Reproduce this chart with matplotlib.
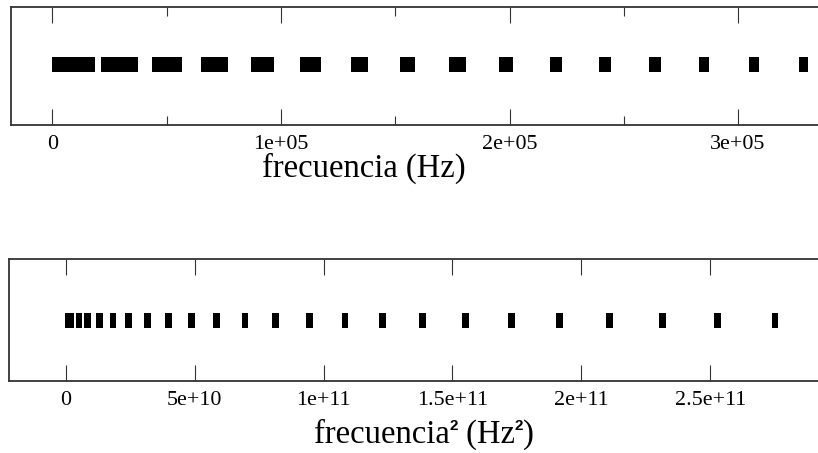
import matplotlib
matplotlib.use("Agg")
import matplotlib.pyplot as plt
from matplotlib.ticker import MultipleLocator

plt.rcParams["font.family"] = ["Liberation Serif", "DejaVu Serif"]

# Frequency bands (Hz): lower and upper edge of each block
band_lo = [0, 21200, 43400, 65000, 86700, 108400, 130600, 152100,
           173600, 195400, 217600, 239200, 261000, 283100, 304700, 326600]
band_hi = [18600, 37400, 56500, 76700, 97100, 117500, 137900, 158600,
           180800, 201700, 222800, 244300, 266200, 287300, 309200, 330800]

# Squared frequencies (Hz^2) of the lines
freq_sq = [0.95e9, 1.4e9, 1.95e9, 5.2e9, 8.5e9, 1.30e10, 1.83e10, 2.43e10,
           3.16e10, 3.99e10, 4.89e10, 5.86e10, 6.96e10, 8.15e10, 9.45e10,
           1.083e11, 1.228e11, 1.385e11, 1.552e11, 1.729e11, 1.915e11,
           2.110e11, 2.315e11, 2.528e11, 2.751e11]

top_ticks = [0, 1e5, 2e5, 3e5]
top_labels = ["0", "1e+05", "2e+05", "3e+05"]
bot_ticks = [0, 5e10, 1e11, 1.5e11, 2e11, 2.5e11]
bot_labels = ["0", "5e+10", "1e+11", "1.5e+11", "2e+11", "2.5e+11"]

W, H = 818, 453
fig = plt.figure(figsize=(W / 100, H / 100), dpi=100)
renderer = fig.canvas.get_renderer()


def px_axes(left, top, right, bottom):
    return fig.add_axes([left / W, 1 - bottom / H, (right - left) / W, (bottom - top) / H])


spine_col = "#333333"
tick_fs = 15.8
label_fs = 23.5


def style(ax):
    for side in ("left", "top", "bottom"):
        ax.spines[side].set_color(spine_col)
        ax.spines[side].set_linewidth(1.3)
    ax.spines["right"].set_visible(False)
    ax.set_yticks([])
    ax.set_ylim(0, 1)
    ax.tick_params(axis="x", which="both", direction="in", top=True, bottom=True,
                   color=spine_col, width=0.8, labelsize=tick_fs, pad=7)
    ax.tick_params(axis="x", which="major", length=11.5)
    ax.tick_params(axis="x", which="minor", length=6.5)


def axis_title(pieces, cx, baseline):
    """Write a title made of (text, size, family, weight, rise_px) pieces,
    centred on cx with its baseline at y = baseline (pixels from top)."""
    widths = []
    for txt, size, fam, wt, rise in pieces:
        t = fig.text(0, 0, txt, fontsize=size, family=fam, weight=wt)
        widths.append(t.get_window_extent(renderer).width)
        t.remove()
    x = cx - sum(widths) / 2
    for (txt, size, fam, wt, rise), w in zip(pieces, widths):
        fig.text(x / W, 1 - (baseline - rise) / H, txt, fontsize=size, family=fam,
                 weight=wt, va="baseline", ha="left")
        x += w


# Upper panel: frequency
ax1 = px_axes(11, 7, W, 125)
style(ax1)
ax1.broken_barh([(lo, hi - lo) for lo, hi in zip(band_lo, band_hi)], (0.45, 0.13),
                facecolor="black", edgecolor="none")
ax1.set_xlim(-18160, 335000)
ax1.set_xticks(top_ticks, top_labels)
ax1.xaxis.set_minor_locator(MultipleLocator(5e4))

serif = ["Liberation Serif"]
sans = ["Liberation Sans"]
axis_title([("frecuencia (Hz)", label_fs, serif, "normal", 0)], 364, 177)

# Lower panel: squared frequency
ax2 = px_axes(9.3, 259.3, W, 381)
style(ax2)
ax2.bar(freq_sq, 0.123, width=2.6e9, bottom=0.433, color="black", linewidth=0)
ax2.set_xlim(-2.188e10, 2.918e11)
ax2.set_xticks(bot_ticks, bot_labels)

axis_title([("frecuencia", label_fs, serif, "normal", 0),
            ("2", 11, sans, "bold", 13),
            (" (Hz", label_fs, serif, "normal", 0),
            ("2", 11, sans, "bold", 13),
            (")", label_fs, serif, "normal", 0)], 424, 443)

fig.savefig("out.png", dpi=100)
